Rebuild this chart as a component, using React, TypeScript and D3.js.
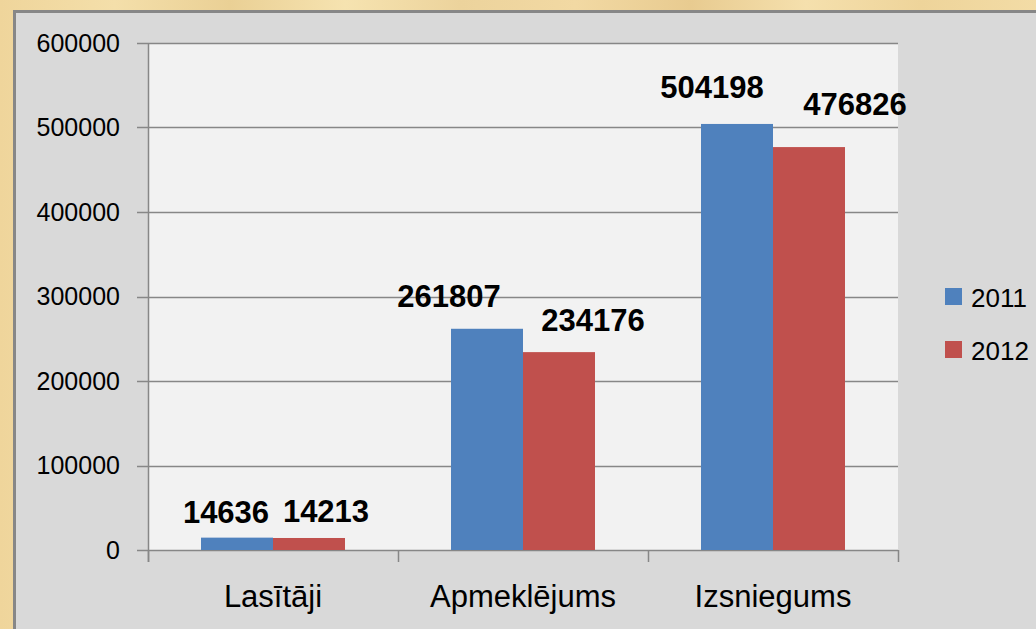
import React from "react";
import * as d3 from "d3";

const categories = ["Lasītāji", "Apmeklējums", "Izsniegums"];
const seriesNames = ["2011", "2012"];
const values2011 = [14636, 261807, 504198];
const values2012 = [14213, 234176, 476826];
const yTicks = [0, 100000, 200000, 300000, 400000, 500000, 600000];
const colors = ["#4f81bd", "#c0504d"];
// manual label nudges seen in the reference (dx, dy from bar centre / bar top)
const labelNudge2011 = [[-11, -15], [-38, -22], [-25, -26]];
const labelNudge2012 = [[17, -16], [34, -21], [46, -32]];

const W = 1036;
const H = 629;
const plot = { left: 148, right: 898, top: 43, bottom: 550 };
const FONT = "'Liberation Sans', Arial, sans-serif";

export default function App() {
  const series = [values2011, values2012];
  const nudges = [labelNudge2011, labelNudge2012];
  const x = d3.scaleBand().domain(categories).range([plot.left, plot.right]).paddingInner(0).paddingOuter(0);
  const y = d3.scaleLinear().domain([0, 600000]).range([plot.bottom, plot.top]);
  const barW = 72;
  const groupW = barW * 2;

  const parchStops = ["#efd59b", "#f4dfaa", "#ead095", "#f6e3b0", "#ecd39c", "#f2d9a3", "#e8cb90", "#f5e0ad", "#eed49a", "#f3dca6"];

  return (
    <svg width={W} height={H} style={{ position: "absolute", left: 0, top: 0, display: "block" }}>
      <defs>
        <linearGradient id="parch" x1="0" x2="1" y1="0" y2="0">
          {parchStops.map((c, i) => (
            <stop key={i} offset={`${(i / (parchStops.length - 1)) * 100}%`} stopColor={c} />
          ))}
        </linearGradient>
      </defs>
      <rect x={0} y={0} width={W} height={H} fill="url(#parch)" />
      <rect x={14.5} y={11.5} width={W + 10} height={H + 10} fill="#d9d9d9" stroke="#878787" strokeWidth={3} />
      <rect x={plot.left} y={plot.top} width={plot.right - plot.left} height={plot.bottom - plot.top} fill="#f2f2f2" />
      {yTicks.map((t) => (
        <g key={t}>
          <line x1={137} x2={plot.right} y1={Math.round(y(t)) + 0.5} y2={Math.round(y(t)) + 0.5} stroke="#878787" strokeWidth={1.5} />
          <text x={120} y={y(t) + 8.5} textAnchor="end" fontFamily={FONT} fontSize={25} fill="#000">{t}</text>
        </g>
      ))}
      <line x1={plot.left + 0.5} x2={plot.left + 0.5} y1={plot.top} y2={562} stroke="#878787" strokeWidth={1.5} />
      {[...categories.map((c) => x(c)!), plot.right].map((px, i) => (
        <line key={i} x1={px + 0.5} x2={px + 0.5} y1={plot.bottom} y2={562} stroke="#878787" strokeWidth={1.5} />
      ))}
      {series.map((vals, si) =>
        vals.map((v, ci) => {
          const cx = x(categories[ci])! + (x.bandwidth() - groupW) / 2 + si * barW;
          return (
            <rect key={`${si}-${ci}`} x={cx} y={y(v)} width={barW} height={plot.bottom - y(v)} fill={colors[si]} />
          );
        })
      )}
      {series.map((vals, si) =>
        vals.map((v, ci) => {
          const cx = x(categories[ci])! + (x.bandwidth() - groupW) / 2 + si * barW + barW / 2;
          const [dx, dy] = nudges[si][ci];
          return (
            <text key={`l${si}-${ci}`} x={cx + dx} y={y(v) + dy} textAnchor="middle" fontFamily={FONT} fontWeight="bold" fontSize={31} fill="#000">
              {v}
            </text>
          );
        })
      )}
      {categories.map((c) => (
        <text key={c} x={x(c)! + x.bandwidth() / 2} y={607} textAnchor="middle" fontFamily={FONT} fontSize={31} fill="#000">
          {c}
        </text>
      ))}
      {seriesNames.map((s, i) => (
        <g key={s} transform={`translate(945, ${288 + i * 53})`}>
          <rect x={0} y={0} width={17} height={17} fill={colors[i]} />
          <text x={26} y={19} fontFamily={FONT} fontSize={26} fill="#000">{s}</text>
        </g>
      ))}
    </svg>
  );
}
